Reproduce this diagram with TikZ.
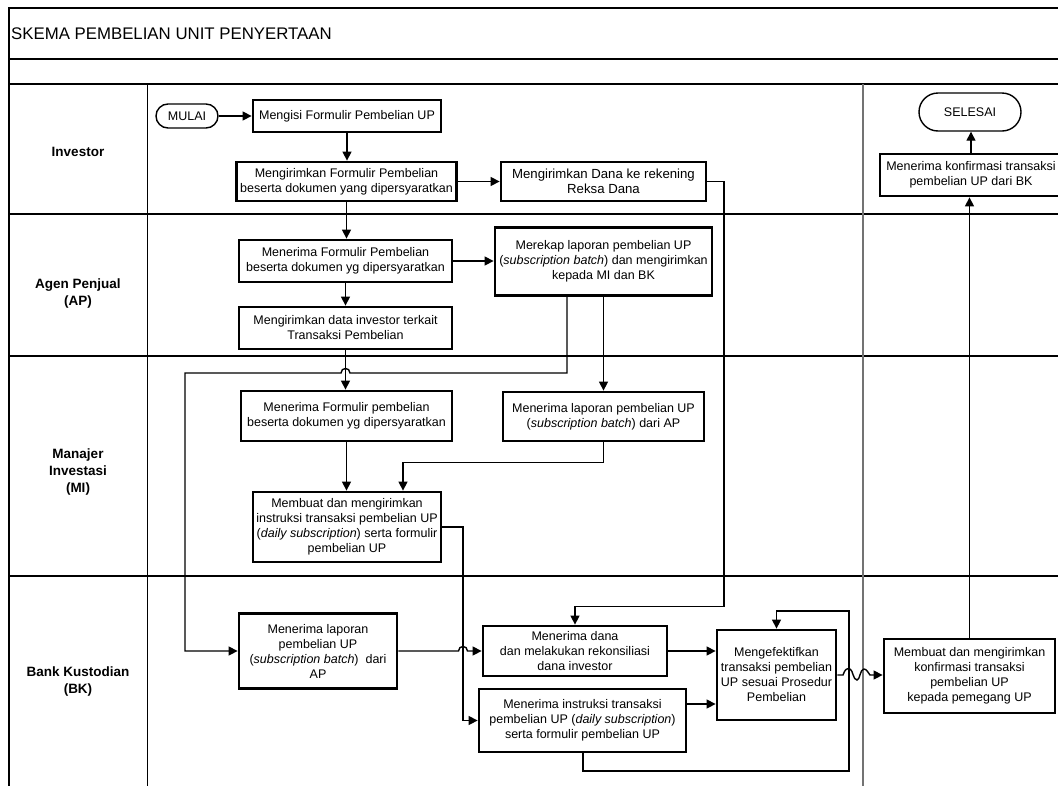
\documentclass[tikz,border=0pt]{standalone}
\usepackage{fontspec}
\setmainfont{Liberation Sans}
\usetikzlibrary{arrows.meta,shapes.misc}
\newcommand\boxfnt{\fontsize{12.5}{15}\selectfont}
\newcommand\lanefnt{\fontsize{13.5}{17}\selectfont\bfseries}
\begin{document}
\begin{tikzpicture}[x=1pt,y=-1pt,
  pbox/.style={draw, line width=2.8pt, align=center, inner sep=1pt, font=\boxfnt, fill=white},
  tbox/.style={draw, rounded rectangle, line width=1.4pt, inner sep=1pt, font=\boxfnt, fill=white},
  conn/.style={line width=1.4pt, -{Triangle[length=9pt,width=9pt]}},
  plain/.style={line width=1.4pt},
  laneline/.style={line width=2pt},
  lanelabel/.style={align=center, font=\lanefnt, inner sep=0pt}]
\useasboundingbox (0,0) rectangle (1058,785);
\clip (0,0) rectangle (1058,785);
\fill[white] (0,0) rectangle (1058,785);
% frame and lanes
\draw[laneline] (8.5,800) -- (8.5,7.5) -- (1080,7.5);
\draw[laneline] (8.5,58.5) -- (1080,58.5);
\draw[laneline] (8.5,84) -- (1080,84);
\draw[laneline] (8.5,213.5) -- (1080,213.5);
\draw[laneline] (8.5,356) -- (1080,356);
\draw[laneline] (8.5,576) -- (1080,576);
\draw[line width=1.5pt] (147.5,84) -- (147.5,800);
\draw[line width=1.3pt, black!55] (863,84) -- (863,800);
\node[anchor=west, font=\fontsize{16.8}{20}\selectfont, inner sep=0pt] (title) at (11,34) {SKEMA PEMBELIAN UNIT PENYERTAAN};
\node[lanelabel] (linv) at (78,152) {Investor};
\node[lanelabel] (lap) at (78,294) {Agen Penjual\\(AP)};
\node[lanelabel] (lmi) at (78,472) {Manajer\\Investasi\\(MI)};
\node[lanelabel] (lbk) at (78,681) {Bank Kustodian\\(BK)};
% nodes
\node[tbox, minimum width=64pt, minimum height=24pt] (mulai) at (187,116) {MULAI};
\node[pbox, minimum width=188pt, minimum height=32pt] (isi) at (347,116) {Mengisi Formulir Pembelian UP};
\node[pbox, minimum width=220pt, minimum height=39pt] (kirim) at (346.5,181.5) {Mengirimkan Formulir Pembelian\\beserta dokumen yang dipersyaratkan};
\node[pbox, minimum width=205pt, minimum height=39pt, font=\fontsize{13.2}{15}\selectfont] (dana) at (603.5,181.5) {Mengirimkan Dana ke rekening\\Reksa Dana};
\node[tbox, minimum width=104pt, minimum height=38pt] (selesai) at (970,112) {SELESAI};
\node[pbox, minimum width=182pt, minimum height=42pt] (konf) at (971,175) {Menerima konfirmasi transaksi\\pembelian UP dari BK};
\node[pbox, minimum width=213pt, minimum height=42pt] (ap1) at (345.5,261) {Menerima Formulir Pembelian\\beserta dokumen yg dipersyaratkan};
\node[pbox, minimum width=213pt, minimum height=42pt] (ap2) at (345.5,328) {Mengirimkan data investor terkait\\Transaksi Pembelian};
\node[pbox, minimum width=217pt, minimum height=68pt] (ap3) at (603.5,261.5) {Merekap laporan pembelian UP\\(\textit{subscription batch}) dan mengirimkan\\kepada MI dan BK};
\node[pbox, minimum width=211pt, minimum height=50pt] (mi1) at (346.5,416) {Menerima Formulir pembelian\\beserta dokumen yg dipersyaratkan};
\node[pbox, minimum width=201pt, minimum height=49pt] (mi2) at (603.5,416.5) {Menerima laporan pembelian UP\\(\textit{subscription batch}) dari AP};
\node[pbox, minimum width=188pt, minimum height=70pt] (mi3) at (347,527) {Membuat dan mengirimkan\\instruksi transaksi pembelian UP\\(\textit{daily subscription}) serta formulir\\pembelian UP};
\node[pbox, minimum width=158pt, minimum height=75pt] (bk1) at (318,651) {Menerima laporan\\pembelian UP\\(\textit{subscription batch})\ \ dari\\AP};
\node[pbox, minimum width=184pt, minimum height=50pt] (bk2) at (575,651) {Menerima dana\\dan melakukan rekonsiliasi\\dana investor};
\node[pbox, minimum width=207pt, minimum height=63pt] (bk3) at (582.5,720.5) {Menerima instruksi transaksi\\pembelian UP (\textit{daily subscription})\\serta formulir pembelian UP};
\node[pbox, minimum width=119pt, minimum height=90pt] (bk4) at (776.5,675) {Mengefektifkan\\transaksi pembelian\\UP sesuai Prosedur\\Pembelian};
\node[pbox, minimum width=171pt, minimum height=74pt] (bk5) at (969.5,676) {Membuat dan mengirimkan\\konfirmasi transaksi\\pembelian UP\\kepada pemegang UP};
% connectors
\draw[conn] (mulai.east) -- (isi.west);
\draw[conn] (isi.south) -- (isi.south |- kirim.north);
\draw[conn] (kirim.east) -- (kirim.east -| dana.west);
\draw[conn] (kirim.south) -- (kirim.south |- ap1.north);
\draw[conn] (ap1.east) -- (ap1.east -| ap3.west);
\draw[conn] (ap1.south) -- (ap1.south |- ap2.north);
\draw[conn] (ap2.south) -- (ap2.south |- mi1.north);
\draw[conn] (ap3.south -| 567,0) -- (567,373) -- (350,373) .. controls (350,367) and (341,367) .. (341,373) -- (185,373) -- (185,651) -- (bk1.west);
\draw[conn] (ap3.south) -- (ap3.south |- mi2.north);
\draw[conn] (mi1.south) -- (mi1.south |- mi3.north);
\draw[conn] (mi2.south) -- (603.5,462.5) -- (403,462.5) -- (403,0 |- mi3.north);
\draw[conn] (mi3.east) -- (463,527) -- (463,0 |- bk3.west) -- (bk3.west);
\draw[conn] (bk1.east) -- (458.5,651) .. controls (458.5,645) and (467.5,645) .. (467.5,651) -- (bk2.west);
\draw[conn] (dana.east) -- (724,181.5) -- (724,606.5) -- (575,606.5) -- (bk2.north);
\draw[conn] (bk2.east) -- (bk2.east -| bk4.west);
\draw[conn] ([yshift=16.5pt]bk3.east) coordinate (q) -- (q -| bk4.west);
\draw[conn] (bk3.south -| 583,0) -- (583,771) -- (849,771) -- (849,611) -- (776.5,611) -- (bk4.north);
\draw[conn] (bk4.east) -- (843,675) .. controls (845,669) and (847,668) .. (850,669) .. controls (853,670) and (853,680) .. (857,680) .. controls (860,680) and (860,669) .. (864,669) .. controls (867,669) and (868,673) .. (870,675) -- (bk5.west |- 0,675);
\draw[conn] (bk5.north) -- (bk5.north |- konf.south);
\draw[conn] (konf.north) -- (konf.north |- selesai.south);
\end{tikzpicture}
\end{document}
